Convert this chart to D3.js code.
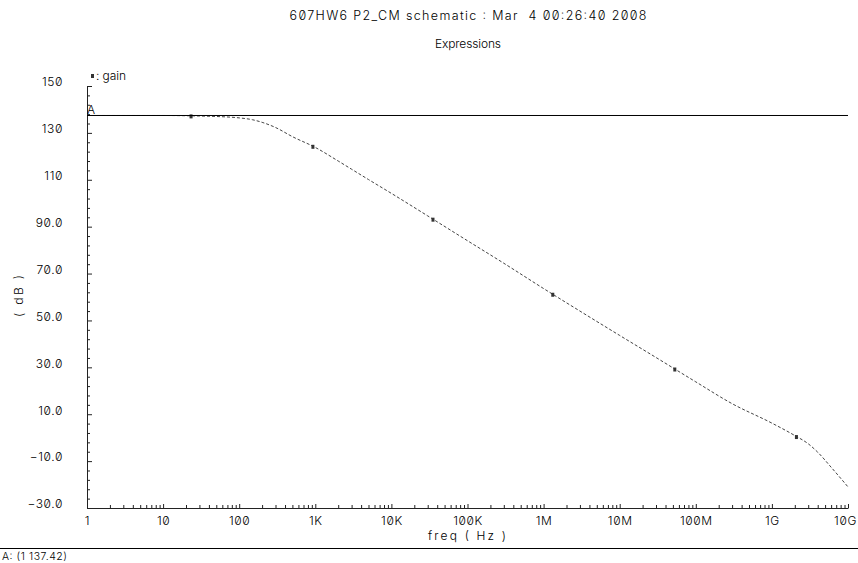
<!DOCTYPE html>
<html>
<head>
<meta charset="utf-8">
<script src="https://cdn.jsdelivr.net/npm/d3@7"></script>
<style>
  html, body { margin: 0; padding: 0; background: #fff; }
  svg { display: block; }
  text {
    font-family: Inter, "DejaVu Sans", sans-serif;
    font-weight: 300;
    font-variant-numeric: slashed-zero;
    font-feature-settings: "zero" 1;
    fill: #000;
  }
</style>
</head>
<body>
<svg id="chart" width="858" height="563"></svg>
<script>
// AC response of the gain expression (frequency in Hz, gain in dB)
const freqHz = [1, 10, 30, 50, 100, 150, 200, 300, 500, 1e3, 2e3, 3e3, 5e3, 1e4, 3e4, 1e5, 3e5,
                1e6, 3e6, 1e7, 3e7, 1e8, 3e8, 1e9, 2e9, 3e9, 4e9, 6e9, 1e10];
const gainDb = [137.42, 137.42, 137.2, 137.0, 136.4, 135.6, 134.5, 132.3, 128.4, 123.8, 118.0,
                114.5, 110.1, 104.2, 94.6, 84.0, 74.4, 63.6, 54.0, 43.6, 34.2, 23.8, 14.5,
                6.2, 0.9, -2.6, -6.2, -12.6, -21.0];

// frequencies where the trace symbols sit
const markerFreqs = [23.3, 930, 35200, 1.32e6, 5.3e7, 2.1e9];

// marker A readout
const markerA = { freq: 1, gain: 137.42 };

const xTickValues = [1, 1e1, 1e2, 1e3, 1e4, 1e5, 1e6, 1e7, 1e8, 1e9, 1e10];
const xTickLabels = ["1", "10", "100", "1K", "10K", "100K", "1M", "10M", "100M", "1G", "10G"];
const yTickValues = [150, 130, 110, 90, 70, 50, 30, 10, -10, -30];
const yTickLabels = ["150", "130", "110", "90.0", "70.0", "50.0", "30.0", "10.0", "\u221210.0", "\u221230.0"];

const title = "607HW6 P2_CM schematic : Mar  4 00:26:40 2008";
const subtitle = "Expressions";
const xLabel = "freq ( Hz )";
const yLabel = "( dB )";
const seriesName = "gain";

const svg = d3.select("#chart");
const plotLeft = 87, plotRight = 848, plotTop = 86, plotBottom = 508;

const x = d3.scaleLog().domain([1, 1e10]).range([plotLeft, plotRight]);
const y = d3.scaleLinear().domain([-30, 150]).range([plotBottom, plotTop]);

// headings
svg.append("text").attr("x", 468).attr("y", 20).attr("text-anchor", "middle")
  .style("font-size", "12.5px").style("white-space", "pre")
  .attr("textLength", 357).attr("lengthAdjust", "spacing")
  .text(title);
svg.append("text").attr("x", 468).attr("y", 48).attr("text-anchor", "middle")
  .style("font-size", "12px")
  .attr("textLength", 66).attr("lengthAdjust", "spacing")
  .text(subtitle);

// y axis: major and minor ticks point into the plot
const yAxis = d3.axisLeft(y).tickValues(yTickValues)
  .tickFormat((d, i) => yTickLabels[i]).tickSize(-5).tickSizeOuter(0).tickPadding(24);
const gy = svg.append("g").attr("transform", `translate(${plotLeft},0)`).call(yAxis);
gy.selectAll(".tick text").attr("y", -4);
const yMinor = d3.range(-30, 150.1, 4).filter(v => !yTickValues.includes(v));
svg.append("g").attr("transform", `translate(${plotLeft},0)`)
  .call(d3.axisLeft(y).tickValues(yMinor).tickFormat("").tickSize(-3).tickSizeOuter(0))
  .select(".domain").remove();

// x axis with log minor ticks
const xAxis = d3.axisBottom(x).tickValues(xTickValues)
  .tickFormat((d, i) => xTickLabels[i]).tickSize(-4).tickSizeOuter(0).tickPadding(8);
const gx = svg.append("g").attr("transform", `translate(0,${plotBottom})`).call(xAxis);
gx.selectAll(".tick text").filter(d => d === 1e10).attr("x", -3);
const xMinor = [];
for (let e = 0; e < 10; e++) for (let m = 2; m <= 9; m++) xMinor.push(m * Math.pow(10, e));
svg.append("g").attr("transform", `translate(0,${plotBottom})`)
  .call(d3.axisBottom(x).tickValues(xMinor).tickFormat("").tickSize(-3).tickSizeOuter(0))
  .select(".domain").remove();

svg.selectAll(".tick text").style("font-size", "12px").style("letter-spacing", "0.6px")
  .attr("font-family", null);
svg.selectAll(".domain, .tick line").attr("stroke", "#222").attr("stroke-width", 1);

// axis titles
svg.append("text").attr("x", 467).attr("y", 540).attr("text-anchor", "middle")
  .style("font-size", "12px").style("white-space", "pre")
  .attr("textLength", 78).attr("lengthAdjust", "spacing").text(xLabel);
svg.append("text").attr("transform", "translate(23,296) rotate(-90)").attr("text-anchor", "middle")
  .style("font-size", "12px").style("white-space", "pre")
  .attr("textLength", 42).attr("lengthAdjust", "spacing").text(yLabel);

// gain trace
const line = d3.line().x((d, i) => x(freqHz[i])).y(d => y(d)).curve(d3.curveMonotoneX);
svg.append("path").datum(gainDb).attr("d", line)
  .attr("fill", "none").attr("stroke", "#444").attr("stroke-width", 1)
  .attr("stroke-dasharray", "3,2");

// trace symbols, placed on the trace by log-frequency interpolation
const lf = freqHz.map(Math.log10);
function gainAt(f) {
  const lv = Math.log10(f);
  const i = Math.max(1, d3.bisectLeft(lf, lv));
  const t = (lv - lf[i - 1]) / (lf[i] - lf[i - 1]);
  return gainDb[i - 1] + t * (gainDb[i] - gainDb[i - 1]);
}
svg.selectAll("rect.sym").data(markerFreqs).join("rect").attr("class", "sym")
  .attr("x", d => x(d) - 1.5).attr("y", d => y(gainAt(d)) - 1.5)
  .attr("width", 3).attr("height", 4).attr("fill", "#333");

// legend
svg.append("rect").attr("x", 91).attr("y", 74).attr("width", 3).attr("height", 4).attr("fill", "#333");
svg.append("text").attr("x", 96).attr("y", 80).style("font-size", "12px").style("white-space", "pre")
  .attr("textLength", 30).attr("lengthAdjust", "spacing")
  .text(": " + seriesName);

// marker A horizontal line
svg.append("line").attr("x1", plotLeft).attr("x2", plotRight)
  .attr("y1", y(markerA.gain)).attr("y2", y(markerA.gain))
  .attr("stroke", "#000").attr("stroke-width", 1);
svg.append("text").attr("x", plotLeft).attr("y", y(markerA.gain) - 1)
  .style("font-size", "12px").text("A");

// readout strip
svg.append("line").attr("x1", 0).attr("x2", 858).attr("y1", 548.5).attr("y2", 548.5)
  .attr("stroke", "#000").attr("stroke-width", 1);
svg.append("text").attr("x", 2).attr("y", 560).style("font-size", "10.5px").style("white-space", "pre")
  .attr("textLength", 65).attr("lengthAdjust", "spacing")
  .text(`A: (${markerA.freq} ${markerA.gain.toFixed(2)})`);
</script>
</body>
</html>
